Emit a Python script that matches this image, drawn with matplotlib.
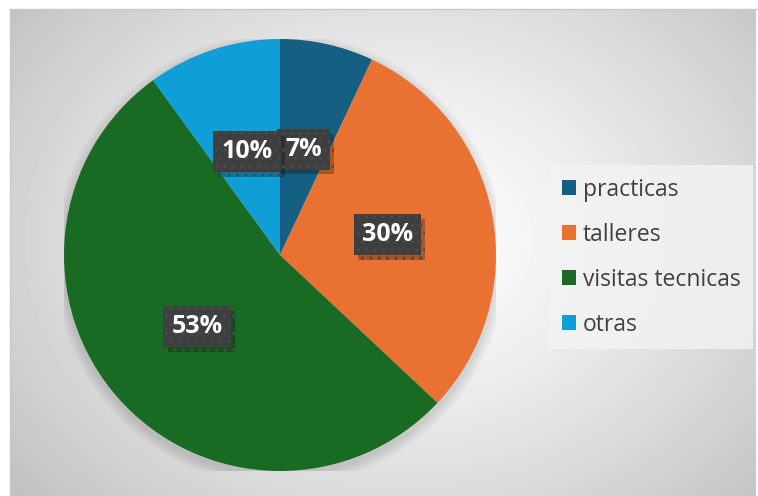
import matplotlib.pyplot as plt
import matplotlib.patheffects as pe
import numpy as np
from matplotlib.patches import Circle

categories = ['practicas', 'talleres', 'visitas tecnicas', 'otras']
shares = [7, 30, 53, 10]
colors = ['#156082', '#E97132', '#196B24', '#0F9ED5']
# label anchor positions in pie axes coords (x, y)
label_pos = [(0.108, 0.488), (0.498, 0.093), (-0.384, -0.333), (-0.153, 0.477)]

W, H = 758, 496
fig = plt.figure(figsize=(W / 100, H / 100), dpi=100)
fig.patch.set_facecolor('white')

# chart area with a radial grey gradient
bg = fig.add_axes([10 / W, 0, (W - 12) / W, (H - 9) / H])
bg.set_axis_off()
yy, xx = np.mgrid[0:487, 0:746]
r = np.hypot((xx - 390) / 380, (yy - 230) / 300)
shade = 1.0 - 0.24 * np.clip(r / 1.3, 0, 1) ** 1.3
bg.imshow(shade, cmap='gray', vmin=0, vmax=1, aspect='auto',
          interpolation='bilinear')
fig.add_artist(plt.Line2D([10 / W, 10 / W], [0, (H - 9) / H], color='#c8c8c8',
                          lw=1, transform=fig.transFigure))
fig.add_artist(plt.Line2D([10 / W, 1], [(H - 9) / H, (H - 9) / H],
                          color='#c8c8c8', lw=1, transform=fig.transFigure))

ax = fig.add_axes([64 / W, 25 / H, 432 / W, 432 / H])
ax.set_axis_off()

# soft shadow under the pie
for i in range(10):
    ax.add_patch(Circle((0, -0.02), 1.0 + 0.005 * (10 - i), color='black',
                        alpha=0.012, lw=0, zorder=0))

wedges, _ = ax.pie(shares, colors=colors, startangle=90, counterclock=False,
                   radius=1.0, wedgeprops=dict(linewidth=0))
for w in wedges:
    w.set_zorder(2)
ax.set_xlim(-1, 1)
ax.set_ylim(-1, 1)

plt.rcParams['hatch.linewidth'] = 1.1
for (x, y), v in zip(label_pos, shares):
    t = ax.text(x, y, f'{v}%', ha='center', va='center', fontsize=18,
                fontweight='bold', family='Open Sans', color='white',
                zorder=4,
                bbox=dict(boxstyle='square,pad=0.32', fc='#3f3f3f',
                          ec='#4a4a4a', lw=0, hatch='..'))
    t.get_bbox_patch().set_path_effects(
        [pe.SimplePatchShadow(offset=(3, -3), shadow_rgbFace='black',
                              alpha=0.25), pe.Normal()])

leg = fig.legend(wedges, categories, loc='upper left',
                 bbox_to_anchor=(549 / W, (H - 165) / H),
                 frameon=True, fancybox=False,
                 prop=dict(family='Open Sans', size=16.5),
                 handlelength=0.62, handleheight=0.62, handletextpad=0.3,
                 labelspacing=0.92, borderpad=0.55, borderaxespad=0)
leg.get_frame().set_facecolor('#f3f3f3')
leg.get_frame().set_edgecolor('none')
leg.get_frame().set_alpha(0.8)
for t in leg.get_texts():
    t.set_color('#404040')

fig.savefig('out.png', dpi=100)
